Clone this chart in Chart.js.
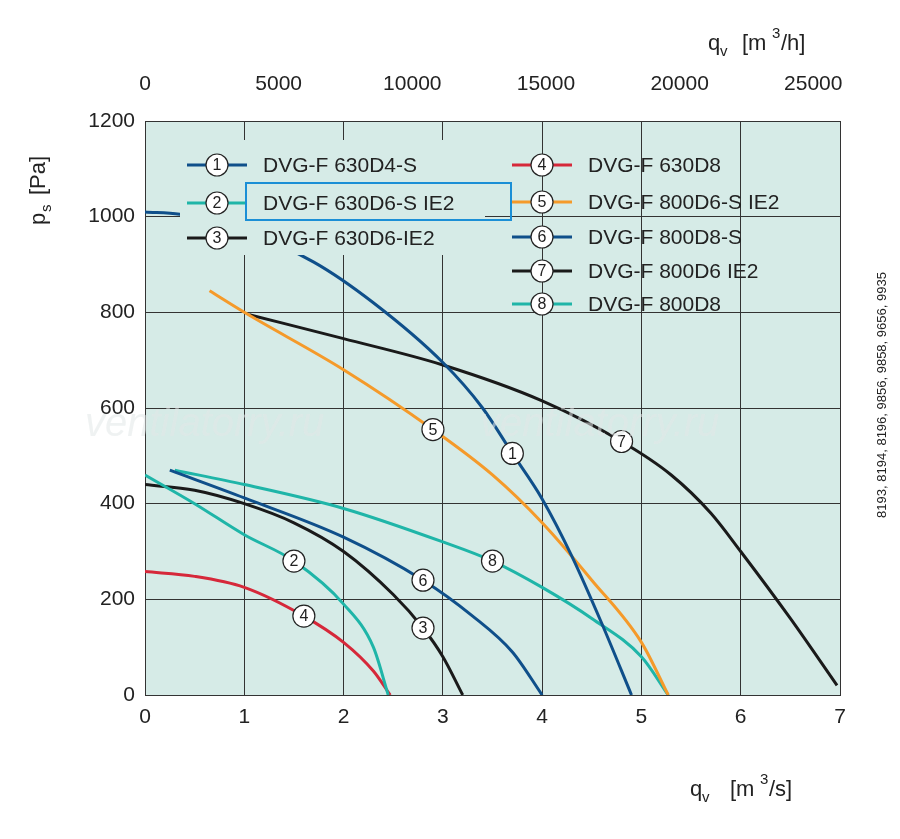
<!DOCTYPE html>
<html><head><meta charset="utf-8">
<script src="https://cdn.jsdelivr.net/npm/chart.js@4/dist/chart.umd.min.js"></script>
<style>html,body{margin:0;background:#fff}#c{display:block}</style>
</head><body>
<div style="width:900px;height:839px"><canvas id="c"></canvas></div>
<script>
const names = ['DVG-F 630D4-S','DVG-F 630D6-S IE2','DVG-F 630D6-IE2','DVG-F 630D8','DVG-F 800D6-S IE2','DVG-F 800D8-S','DVG-F 800D6 IE2','DVG-F 800D8'];
const colors = ['#0f4f8a','#1fb5a8','#1a1a1a','#d6283a','#f59a2a','#0f4f8a','#1a1a1a','#1fb5a8'];
const c1 = [[0,1010],[0.35,1005],[1,970],[1.7,905],[2.3,820],[3,695],[3.4,600],[3.7,505],[4,410],[4.3,290],[4.6,150],[4.9,0]];
const c2 = [[0,460],[0.5,400],[1,335],[1.5,280],[2,190],[2.3,100],[2.45,0]];
const c3 = [[0,440],[0.5,428],[1,400],[1.5,360],[2,300],[2.5,210],[2.8,140],[3,80],[3.2,0]];
const c4 = [[0,258],[0.5,248],[1,225],[1.6,165],[2,110],[2.3,50],[2.47,0]];
const c5 = [[0.65,845],[1,800],[2,680],[2.9,555],[3.5,460],[4,360],[4.5,240],[5,110],[5.27,0]];
const c6 = [[0.25,470],[1,412],[2,330],[2.8,240],[3.3,165],[3.7,90],[4,0]];
const c7 = [[1.05,795],[2,745],[3,690],[4,615],[4.8,530],[5.3,460],[5.7,380],[6,300],[6.5,160],[6.97,20]];
const c8 = [[0.3,470],[1,440],[2,390],[3,320],[3.5,280],[4,225],[4.5,160],[5,80],[5.27,0]];
const curves = [c1,c2,c3,c4,c5,c6,c7,c8];
const labelAt = [[3.7,505],[1.5,280],[2.8,140],[1.6,165],[2.9,555],[2.8,240],[4.8,530],[3.5,280]];
const xTicks = [0,1,2,3,4,5,6,7];
const yTicks = [0,200,400,600,800,1000,1200];
const topTicks = [0,5000,10000,15000,20000,25000];

const F = '"Liberation Sans", Arial, sans-serif';
function circ(ctx,x,y,n){
  ctx.beginPath();ctx.arc(x,y,11,0,Math.PI*2);ctx.fillStyle='#fff';ctx.fill();
  ctx.lineWidth=1.2;ctx.strokeStyle='#222';ctx.stroke();
  ctx.fillStyle='#222';ctx.font='16px '+F;ctx.textAlign='center';ctx.textBaseline='middle';
  ctx.fillText(String(n),x,y+1);
}
const deco = {
  id:'deco',
  afterDatasetsDraw(ch){
    const {ctx,scales:{x,y}}=ch;
    ctx.save();
    ctx.fillStyle='#d6ebe7';ctx.fillRect(180,140,305,115);
    for(let i=0;i<8;i++){
      const col=i<3?0:1, r=i<3?i:i-3;
      const lx=col?512:187, ly=(i<3?[165,203,238]:[165,202,237,271,304])[r];
      ctx.strokeStyle=colors[i];ctx.lineWidth=3;ctx.beginPath();ctx.moveTo(lx,ly);ctx.lineTo(lx+60,ly);ctx.stroke();
      circ(ctx,lx+30,ly,i+1);
      ctx.fillStyle='#222';ctx.font='21px '+F;ctx.textAlign='left';ctx.textBaseline='middle';
      ctx.fillText(names[i],lx+76,ly+1);
    }
    ctx.strokeStyle='#1b8fd6';ctx.lineWidth=2;ctx.strokeRect(246,183,265,37);
    labelAt.forEach((p,i)=>circ(ctx,x.getPixelForValue(p[0]),y.getPixelForValue(p[1]),i+1));
    ctx.restore();
  },
  afterDraw(ch){
    const {ctx}=ch;
    ctx.save();
    ctx.fillStyle='rgba(225,232,232,0.55)';ctx.font='italic 40px '+F;ctx.textAlign='left';ctx.textBaseline='middle';
    ctx.fillText('ventilatorry.ru',85,425);ctx.fillText('ventilatorry.ru',480,425);
    ctx.fillStyle='#222';ctx.textBaseline='alphabetic';
    ctx.font='22px '+F;
    ctx.fillText('q',708,50);ctx.font='15px '+F;ctx.fillText('v',720,56);
    ctx.font='22px '+F;ctx.fillText('[m',742,50);ctx.font='15px '+F;ctx.fillText('3',772,38);
    ctx.font='22px '+F;ctx.fillText('/h]',781,50);
    ctx.fillText('q',690,796);ctx.font='15px '+F;ctx.fillText('v',702,802);
    ctx.font='22px '+F;ctx.fillText('[m',730,796);ctx.font='15px '+F;ctx.fillText('3',760,784);
    ctx.font='22px '+F;ctx.fillText('/s]',769,796);
    ctx.translate(45,225);ctx.rotate(-Math.PI/2);
    ctx.fillText('p',0,0);ctx.font='15px '+F;ctx.fillText('s',13,6);
    ctx.font='22px '+F;ctx.fillText('[Pa]',30,0);
    ctx.restore();
    ctx.save();ctx.translate(882,395);ctx.rotate(-Math.PI/2);ctx.fillStyle='#222';
    ctx.font='13px '+F;ctx.textAlign='center';ctx.textBaseline='middle';
    ctx.fillText('8193, 8194, 8196, 9856, 9858, 9656, 9935',0,0);ctx.restore();
  }
};
const bg={id:'bg',beforeDraw(ch){const {ctx,chartArea:a}=ch;ctx.fillStyle='#d6ebe7';ctx.fillRect(a.left,a.top,a.right-a.left,a.bottom-a.top);}};
const tk={color:'#222',font:{size:21,family:F},callback:v=>String(v)};

new Chart(document.getElementById('c'),{
  type:'line',
  data:{datasets:curves.map((c,i)=>({data:c.map(p=>({x:p[0],y:p[1]})),borderColor:colors[i],borderWidth:3,pointRadius:0,cubicInterpolationMode:'monotone',fill:false}))},
  options:{
    responsive:true,maintainAspectRatio:false,animation:false,
    layout:{padding:{left:0,right:60,top:0,bottom:0}},
    plugins:{legend:{display:false},tooltip:{enabled:false}},
    scales:{
      x:{type:'linear',min:0,max:7,afterBuildTicks:s=>{s.ticks=xTicks.map(v=>({value:v}))},
        afterFit:s=>{s.height=144},grid:{color:'#333',lineWidth:1,drawTicks:false},border:{color:'#333'},
        ticks:{...tk,padding:10}},
      x2:{type:'linear',position:'top',min:0,max:26000,afterBuildTicks:s=>{s.ticks=topTicks.map(v=>({value:v}))},
        afterFit:s=>{s.height=121},grid:{display:false},border:{display:false},
        ticks:{...tk,padding:16}},
      y:{type:'linear',min:0,max:1200,afterBuildTicks:s=>{s.ticks=yTicks.map(v=>({value:v}))},
        afterFit:s=>{s.width=145},grid:{color:'#333',lineWidth:1,drawTicks:false},border:{color:'#333'},
        ticks:{...tk,padding:10}}
    }
  },
  plugins:[bg,deco]
});
</script>
</body></html>
